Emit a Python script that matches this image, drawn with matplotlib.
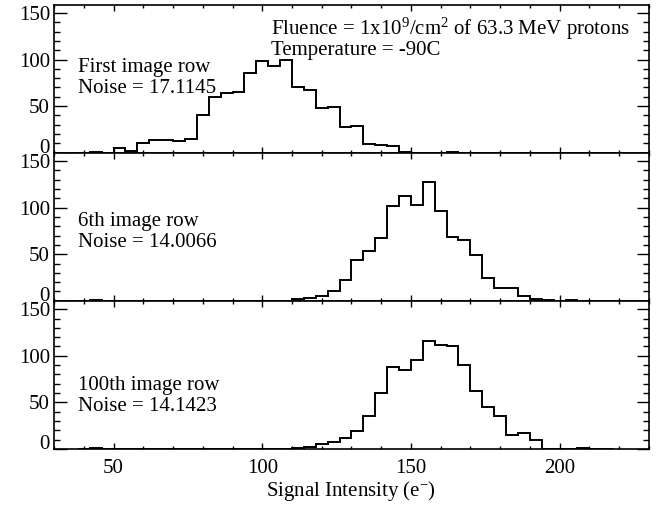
import numpy as np
import matplotlib
matplotlib.use("Agg")
import matplotlib.pyplot as plt
from matplotlib.ticker import MultipleLocator

plt.rcParams['font.family'] = ['Liberation Serif', 'DejaVu Serif']
plt.rcParams['mathtext.fontset'] = 'custom'
plt.rcParams['mathtext.rm'] = 'Liberation Serif'
plt.rcParams['mathtext.it'] = 'Liberation Serif:italic'

# histogram bins (signal intensity, 4 e- wide)
bin_edges = np.arange(38, 222, 4)

# counts per bin, starting at the 38-42 bin
counts_first = [0, 1, 0, 5, 2, 10, 14, 14, 13, 15, 40, 60, 64, 65, 86, 98, 93, 99,
                71, 67, 48, 49, 28, 29, 9, 8, 7, 1, 0, 0, 0, 1, 0, 0, 0, 0, 0, 0,
                0, 0, 0, 0, 0, 0, 0]
counts_6th = [0, 1, 0, 0, 0, 0, 0, 0, 0, 0, 0, 0, 0, 0, 0, 0, 0, 0,
              2, 3, 5, 10, 22, 44, 53, 67, 102, 112, 103, 127, 96, 69, 65, 49, 25, 14,
              14, 5, 2, 1, 0, 1, 0, 0, 0]
counts_100th = [0, 1, 0, 0, 0, 0, 0, 0, 0, 0, 0, 0, 0, 0, 0, 0, 0, 0,
                1, 2, 5, 7, 12, 19, 35, 60, 88, 85, 95, 116, 112, 110, 90, 62, 45, 35,
                15, 17, 10, 0, 0, 0, 1, 0, 0]

row_names = ['First image row', '6th image row', '100th image row']
noise = [17.1145, 14.0066, 14.1423]
label_y = [0.64, 0.60, 0.49]

fig = plt.figure(figsize=(6.6, 5.05), dpi=100)
gs = fig.add_gridspec(3, 1, left=0.082, right=0.983, bottom=0.111, top=0.991, hspace=0)
axes = [fig.add_subplot(gs[i]) for i in range(3)]

for i, (ax, counts) in enumerate(zip(axes, [counts_first, counts_6th, counts_100th])):
    ax.stairs(counts, bin_edges, color='black', lw=1.4)
    ax.set_xlim(30, 230)
    ax.set_ylim(0, 159)
    ax.set_yticks([0, 50, 100, 150])
    ax.yaxis.set_minor_locator(MultipleLocator(10))
    ax.set_xticks([50, 100, 150, 200])
    ax.xaxis.set_minor_locator(MultipleLocator(10))
    ax.tick_params(axis='y', which='major', direction='in', left=True, right=True,
                   length=9, width=1, labelsize=15, pad=3)
    ax.tick_params(axis='y', which='minor', direction='in', left=True, right=True,
                   length=4.5, width=1)
    ax.tick_params(axis='x', which='major', direction='in', top=True, bottom=True,
                   length=4, width=1, labelsize=15, pad=7)
    ax.tick_params(axis='x', which='minor', direction='in', top=True, bottom=True,
                   length=2, width=1)
    for sp in ax.spines.values():
        sp.set_linewidth(1.2)
    if i < 2:
        ax.tick_params(axis='x', labelbottom=False)
    # zero label sits on the baseline
    ax.yaxis.get_major_ticks()[0].label1.set_va('baseline')
    ax.text(0.04, label_y[i], f'{row_names[i]}\nNoise = {noise[i]:.4f}',
            transform=ax.transAxes, ha='left', va='top', fontsize=15, linespacing=1.12)

axes[0].text(0.364, 0.925, 'Fluence = 1x10$^9$/cm$^2$ of 63.3 MeV protons\nTemperature = -90C',
             transform=axes[0].transAxes, ha='left', va='top', fontsize=15, linespacing=0.95)
axes[2].set_xlabel('Signal Intensity (e$^{-}$)', fontsize=15, labelpad=1)

fig.savefig('out.png', dpi=100)
